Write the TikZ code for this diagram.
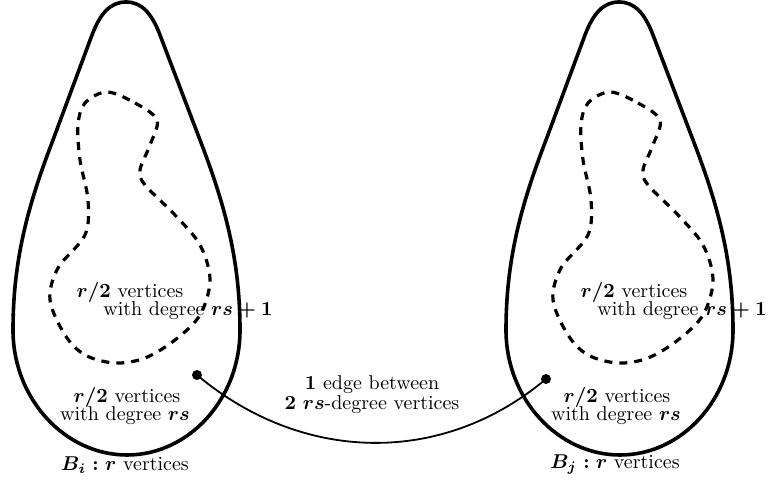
\documentclass[tikz,border=0pt]{standalone}
\usepackage{amsmath}
\begin{document}
\begin{tikzpicture}[x=0.5pt,y=-0.5pt,
  blob/.style={line width=1.8pt},
  inner/.style={line width=1.6pt,dash pattern=on 4pt off 3.5pt},
  lbl/.style={inner sep=0pt,anchor=center},
  dotnode/.style={circle,fill=black,inner sep=0pt,minimum size=5pt},
  link/.style={line width=0.9pt}]
\useasboundingbox (0,0) rectangle (770,490);
\tikzset{teardrop/.pic={
  \draw[blob] (126,2) .. controls (142,2) and (152,14) .. (160,35)
     -- (200,140) .. controls (225,205) and (240,260) .. (240,330)
     .. controls (240,399) and (189,455) .. (127,455)
     .. controls (65,455) and (13,399) .. (13,330)
     .. controls (13,260) and (28,205) .. (53,140)
     -- (92,35) .. controls (100,14) and (110,2) .. cycle;
}}
\tikzset{innerblob/.pic={
  \draw[inner] plot[smooth cycle,tension=0.55] coordinates{
   (107,92) (135,103) (157,120) (150,145) (140,170) (145,185) (175,215) (200,245)
   (210,280) (200,315) (175,340) (145,358) (115,363) (85,355) (65,335) (50,300)
   (58,268) (85,235) (88,200) (80,160) (78,125) (85,103)};
}}
\pic at (0,0) {teardrop};
\pic at (493,0) {teardrop};
\pic at (0,0) {innerblob};
\pic at (503,0) {innerblob};
% labels left
\node[lbl] (li1) at (130,293) {$\boldsymbol{r/2}$ vertices};
\node[lbl] (li2) at (188,311) {with degree $\boldsymbol{rs+1}$};
\node[lbl] (lo1) at (127,398) {$\boldsymbol{r/2}$ vertices};
\node[lbl] (lo2) at (125,416) {with degree $\boldsymbol{rs}$};
\node[lbl] (lb) at (125,465) {$\boldsymbol{B_i:r}$ vertices};
% labels right
\node[lbl] (ri1) at (634,293) {$\boldsymbol{r/2}$ vertices};
\node[lbl] (ri2) at (682,311) {with degree $\boldsymbol{rs+1}$};
\node[lbl] (ro1) at (617,398) {$\boldsymbol{r/2}$ vertices};
\node[lbl] (ro2) at (616,416) {with degree $\boldsymbol{rs}$};
\node[lbl] (rb) at (615,465) {$\boldsymbol{B_j:r}$ vertices};
% edge
\node[dotnode] (dl) at (197,375) {};
\node[dotnode] (dr) at (546,379) {};
\draw[link] (dl.center) to[out=-40,in=-140] (dr.center);
\node[lbl] (e1) at (372,385) {$\boldsymbol{1}$ edge between};
\node[lbl] (e2) at (372,405) {$\boldsymbol{2}$ $\boldsymbol{rs}$-degree vertices};
\end{tikzpicture}
\end{document}
